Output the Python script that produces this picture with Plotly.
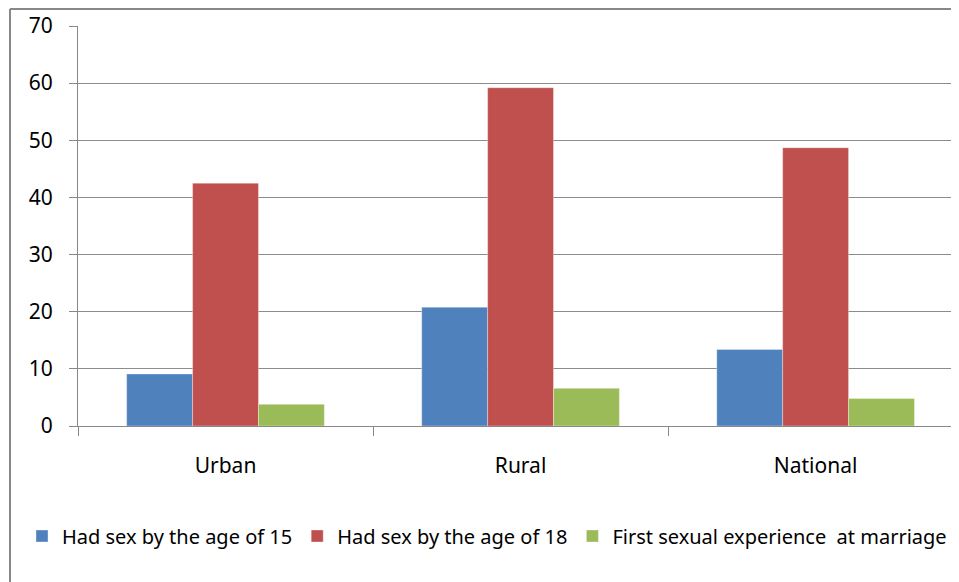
import plotly.graph_objects as go

categories = ["Urban", "Rural", "National"]
had_sex_15 = [9.1, 20.8, 13.4]
had_sex_18 = [42.5, 59.2, 48.7]
first_at_marriage = [3.8, 6.6, 4.8]
series_names = ["Had sex by the age of 15", "Had sex by the age of 18",
                "First sexual experience  at marriage"]
colors = ["#4F81BD", "#C0504D", "#9BBB59"]
y_ticks = [0, 10, 20, 30, 40, 50, 60, 70]

FONT = "Noto Sans"
W, H = 951, 574
ML, MT, MB = 70, 18, 156
PW, PH = W - ML, H - MT - MB

fig = go.Figure()
for name, vals, col in zip(series_names, [had_sex_15, had_sex_18, first_at_marriage], colors):
    fig.add_trace(go.Bar(
        x=categories, y=vals, name=name,
        marker=dict(color=col, line=dict(color="rgba(255,255,255,0.35)", width=1)),
    ))

fig.update_layout(
    width=W, height=H,
    margin=dict(l=ML, r=0, t=MT, b=MB, pad=0),
    paper_bgcolor="white", plot_bgcolor="white",
    barmode="group", bargap=0.33, bargroupgap=0,
    font=dict(family=FONT, color="#000000"),
    showlegend=True,
    legend=dict(
        orientation="h", x=(14 - ML) / PW, xanchor="left", y=-0.275, yanchor="middle",
        font=dict(family=FONT, size=20, color="#000000"),
        bgcolor="rgba(0,0,0,0)", itemclick=False, tracegroupgap=0,
        traceorder="normal",
    ),
    xaxis=dict(
        type="category", range=[-0.5, 2.486],
        tickson="boundaries", ticks="outside", ticklen=9, tickcolor="#888888",
        showline=True, linecolor="#888888", linewidth=1,
        showgrid=False, zeroline=False,
        tickfont=dict(family=FONT, size=21, color="#000000"),
        ticklabelstandoff=21,
    ),
    yaxis=dict(
        range=[0, 70], tickvals=y_ticks, ticks="outside", ticklen=8,
        tickcolor="#888888", showline=True, linecolor="#888888", linewidth=1,
        showgrid=True, gridcolor="#8c8c8c", gridwidth=1, zeroline=False,
        tickfont=dict(family=FONT, size=21, color="#000000"),
        ticklabelstandoff=12,
    ),
)

# outer chart-area border (left and top edges visible; the rest is cropped)
bx = (2 - ML) / PW
by = (H - MB - 1) / PH
fig.add_shape(type="line", xref="paper", yref="paper",
              x0=bx, x1=1.05, y0=by, y1=by,
              line=dict(color="#888888", width=2))
fig.add_shape(type="line", xref="paper", yref="paper",
              x0=bx, x1=bx, y0=-(MB + 5) / PH, y1=by,
              line=dict(color="#888888", width=2))

fig.write_html("out.html")
